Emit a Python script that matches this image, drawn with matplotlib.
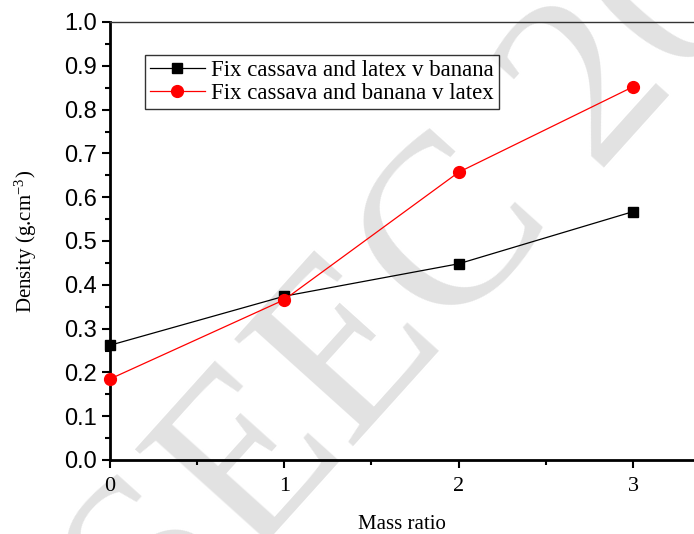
import matplotlib.pyplot as plt
from matplotlib.ticker import MultipleLocator

# Datos
mass_ratio = [0, 1, 2, 3]
latex_v_banana = [0.262, 0.374, 0.448, 0.567]
banana_v_latex = [0.185, 0.366, 0.657, 0.852]

plt.rcParams['font.family'] = 'Liberation Serif'
plt.rcParams['mathtext.fontset'] = 'stix'

fig = plt.figure(figsize=(6.94, 5.34), dpi=100)
ax = fig.add_axes([110 / 694, 74 / 534, 1 - 110 / 694, 438 / 534])

# Marca de agua (detrás de todo)
fig.text(0.60, 0.46, 'SEEC 20', fontsize=175, color='#e2e2e2', rotation=48,
         ha='center', va='center', family='Liberation Serif', zorder=-1)
ax.patch.set_alpha(0)

ax.plot(mass_ratio, latex_v_banana, color='black', lw=0.9, marker='s', ms=7,
        label='Fix cassava and latex v banana', clip_on=False, zorder=3)
ax.plot(mass_ratio, banana_v_latex, color='red', lw=0.9, marker='o', ms=8.5,
        label='Fix cassava and banana v latex', clip_on=False, zorder=3)

ax.set_xlim(0, 3.35)
ax.set_ylim(0, 1.0)
ax.xaxis.set_major_locator(MultipleLocator(1))
ax.xaxis.set_minor_locator(MultipleLocator(0.5))
ax.yaxis.set_major_locator(MultipleLocator(0.1))
ax.yaxis.set_minor_locator(MultipleLocator(0.05))
ax.yaxis.set_major_formatter(plt.FormatStrFormatter('%.1f'))

ax.tick_params(which='both', direction='out', top=False, right=False, width=1.5)
ax.tick_params(which='major', length=6)
ax.tick_params(which='minor', length=3.5)
ax.tick_params(axis='x', pad=6)
for lab in ax.get_yticklabels():
    lab.set_family('Liberation Sans')
    lab.set_fontsize(17)
for lab in ax.get_xticklabels():
    lab.set_fontsize(16)

ax.spines['left'].set_linewidth(2)
ax.spines['bottom'].set_linewidth(2)
ax.spines['top'].set_linewidth(1)
ax.spines['top'].set_color('#333333')
ax.spines['right'].set_visible(False)

ax.set_xlabel('Mass ratio', fontsize=15, labelpad=14)
ax.set_ylabel(r'Density (g.cm$^{\mathregular{-3}}$)', fontsize=15, labelpad=18)

leg = ax.legend(loc='upper left', bbox_to_anchor=(145 / 694, 1 - 55 / 534),
                bbox_transform=fig.transFigure, fontsize=16.5, frameon=True,
                fancybox=False, edgecolor='black', handlelength=2.4,
                handletextpad=0.3, borderpad=0.2, labelspacing=0.1,
                borderaxespad=0)
leg.get_frame().set_linewidth(1)

plt.savefig('out.png', dpi=100)
